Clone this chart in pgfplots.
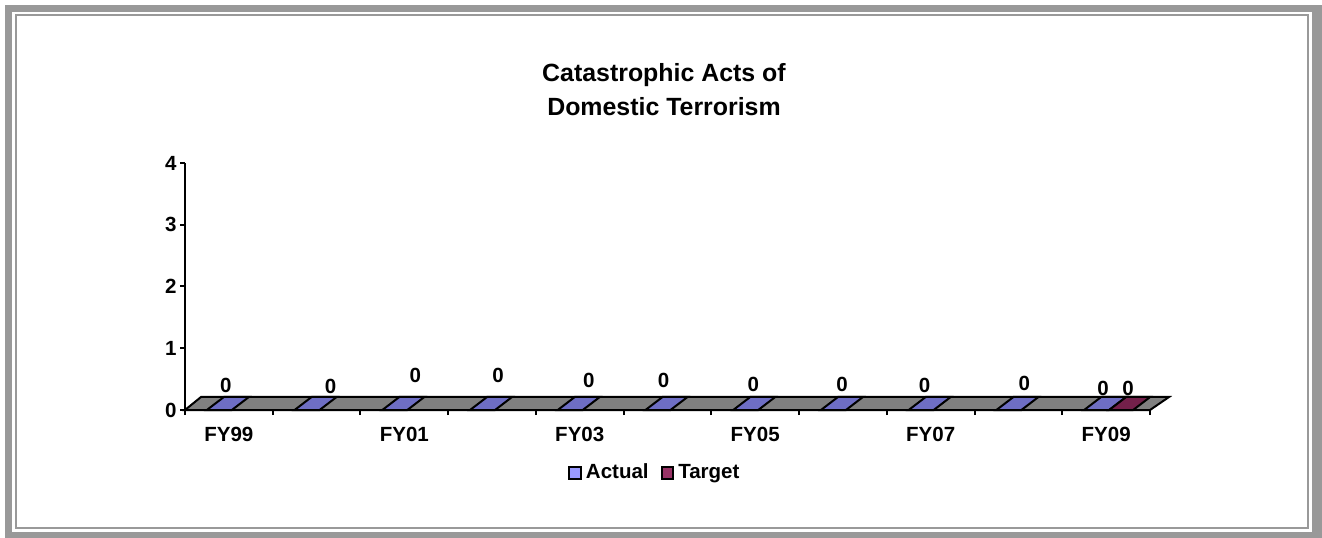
\documentclass[border=0pt]{standalone}
\usepackage{fontspec}
\setmainfont{Liberation Sans}
\usepackage{pgfplots}
\usepackage{pgfplotstable}
\pgfplotsset{compat=1.18}

\definecolor{framegray}{HTML}{999999}
\definecolor{floorgray}{HTML}{808080}
\definecolor{actbar}{HTML}{6E6EC4}
\definecolor{tgtbar}{HTML}{73204A}
\definecolor{actkey}{HTML}{9999FF}
\definecolor{tgtkey}{HTML}{993366}

% zero-height 3D bars only show their top face: a parallelogram on the floor
\pgfdeclareplotmark{actualtop}{%
  \pgfpathmoveto{\pgfpoint{-11bp}{0bp}}%
  \pgfpathlineto{\pgfpoint{1.5bp}{0bp}}%
  \pgfpathlineto{\pgfpoint{10bp}{6.5bp}}%
  \pgfpathlineto{\pgfpoint{-2.5bp}{6.5bp}}%
  \pgfpathclose
  \pgfusepathqfillstroke}
\pgfdeclareplotmark{targettop}{%
  \pgfpathmoveto{\pgfpoint{1.5bp}{0bp}}%
  \pgfpathlineto{\pgfpoint{13.5bp}{0bp}}%
  \pgfpathlineto{\pgfpoint{22bp}{6.5bp}}%
  \pgfpathlineto{\pgfpoint{10bp}{6.5bp}}%
  \pgfpathclose
  \pgfusepathqfillstroke}

% x  value  label offsets (bp)
\pgfplotstableread{
x  y  lx    ly
0  0  -1.5  12.5
1  0  7     11.75
2  0  5.5   17.5
3  0  3     17.5
4  0  4.5   15
5  0  -2    15
6  0  -1    13
7  0  -0.5  13
8  0  -3    12.5
9  0  3     13.5
10 0  -1.5  11
}\actual
\pgfplotstableread{
x  y  lx    ly
10 0  11    11
}\target

\begin{document}
\begin{tikzpicture}
  \path (0,0) rectangle (661bp,269bp);
  \fill[framegray] (2.5bp,0) rectangle (661bp,266.5bp);
  \fill[white] (6bp,3bp) rectangle (656bp,263bp);
  \draw[framegray, line width=1bp] (7.75bp,5bp) rectangle (654bp,261.25bp);

  \begin{axis}[
      at={(92.5bp,64bp)}, anchor=south west,
      scale only axis, width=482.5bp, height=123.5bp,
      xmin=-0.5, xmax=10.5, ymin=0, ymax=4,
      axis x line*=bottom, axis y line*=left,
      axis line style={black, line width=1bp, -},
      clip=false,
      xtick={-0.5,0.5,1.5,2.5,3.5,4.5,5.5,6.5,7.5,8.5,9.5,10.5},
      xticklabels={FY99,,FY01,,FY03,,FY05,,FY07,,FY09,},
      xticklabel style={xshift=21.93bp, yshift=-2.5bp},
      ytick={0,1,2,3,4},
      tick align=outside, major tick length=2.5bp,
      tick style={black, line width=1bp},
      tick label style={font=\fontsize{10.3}{12}\selectfont\bfseries},
      yticklabel style={inner sep=1.5bp},
      /pgf/number format/assume math mode=true,
      nodes near coords,
      visualization depends on={\thisrow{lx} \as \lblx},
      visualization depends on={\thisrow{ly} \as \lbly},
      every node near coord/.append style={anchor=center, xshift=\lblx bp,
        yshift=\lbly bp, font=\fontsize{10.3}{12}\selectfont\bfseries, black},
      legend style={at={(0.488,-0.255)}, anchor=center, draw=none, fill=none,
        legend columns=-1, font=\fontsize{10.3}{12}\selectfont\bfseries,
        /tikz/every even column/.append style={column sep=4bp}},
    ]
    \filldraw[fill=floorgray, draw=black, line width=1bp]
      (axis cs:-0.5,0) -- (axis cs:10.5,0)
      -- ([xshift=9.5bp,yshift=6.5bp]axis cs:10.5,0)
      -- ([xshift=8bp,yshift=6.5bp]axis cs:-0.5,0) -- cycle;
    \addplot[only marks, mark=actualtop,
      mark options={fill=actbar, draw=black, line width=1bp},
      legend image code/.code={\draw[fill=actkey, draw=black, line width=1bp]
        (0bp,-2.9bp) rectangle (5.8bp,2.9bp);}]
      table[x=x, y=y] {\actual};
    \addlegendentry{Actual}
    \addplot[only marks, mark=targettop,
      mark options={fill=tgtbar, draw=black, line width=1bp},
      legend image code/.code={\draw[fill=tgtkey, draw=black, line width=1bp]
        (0bp,-2.9bp) rectangle (5.8bp,2.9bp);}]
      table[x=x, y=y] {\target};
    \addlegendentry{Target}
  \end{axis}

  \node[align=center, font=\fontsize{12.5}{17}\selectfont\bfseries]
    at (332bp,224bp) {Catastrophic Acts of\\Domestic Terrorism};
\end{tikzpicture}
\end{document}
